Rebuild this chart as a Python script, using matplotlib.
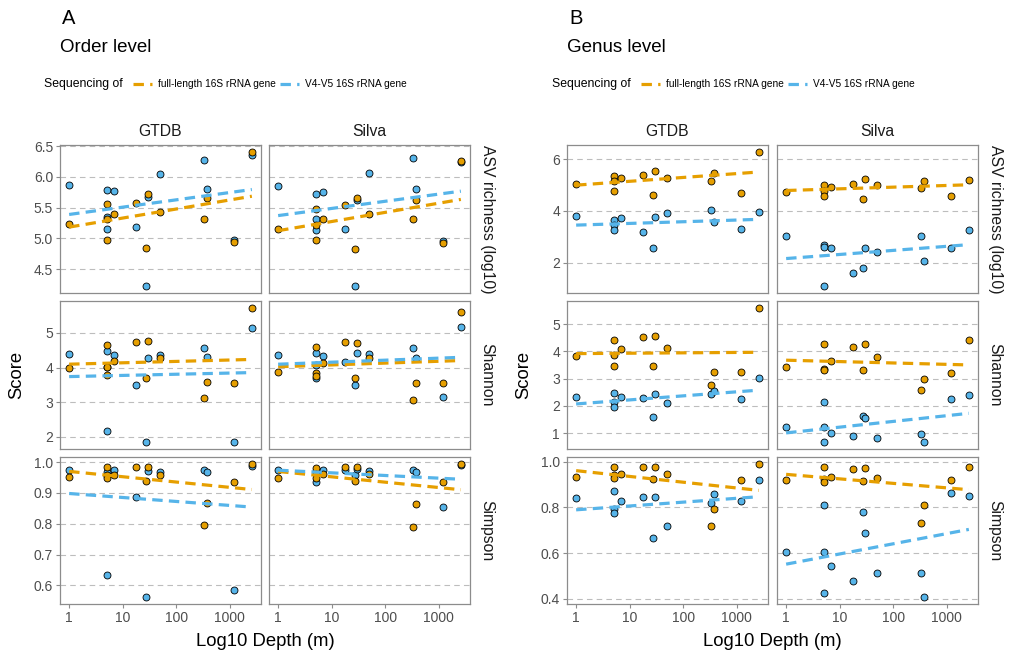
import numpy as np
import matplotlib
matplotlib.use("Agg")
import matplotlib.pyplot as plt
from matplotlib.lines import Line2D

plt.rcParams['font.family'] = ['Liberation Sans', 'DejaVu Sans']
plt.rcParams['lines.scale_dashes'] = False

# sample depths (m), same order in every array below
depth = [1, 5, 5, 5, 7, 18, 27, 30, 50, 330, 370, 1200, 2600]

# ---- A: order level ----
order_gtdb_asv_full = [5.23, 5.56, 5.32, 4.97, 5.40, 5.57, 4.85, 5.73, 5.43, 5.32, 5.65, 4.94, 6.41]
order_gtdb_asv_v4 = [5.87, 5.79, 5.35, 5.16, 5.77, 5.19, 4.22, 5.68, 6.05, 6.27, 5.80, 4.97, 6.36]
order_silva_asv_full = [5.15, 5.48, 5.21, 4.97, 5.32, 5.54, 4.83, 5.65, 5.39, 5.31, 5.63, 4.92, 6.26]
order_silva_asv_v4 = [5.86, 5.72, 5.32, 5.13, 5.76, 5.16, 4.22, 5.63, 6.07, 6.31, 5.81, 4.95, 6.25]
order_gtdb_shannon_full = [3.98, 4.66, 4.02, 3.79, 4.19, 4.74, 3.69, 4.76, 4.28, 3.12, 3.58, 3.55, 5.73]
order_gtdb_shannon_v4 = [4.38, 4.49, 4.03, 2.18, 4.37, 3.50, 1.84, 4.29, 4.36, 4.57, 4.30, 1.84, 5.15]
order_silva_shannon_full = [3.87, 4.60, 3.83, 3.75, 4.12, 4.74, 3.71, 4.71, 4.28, 3.07, 3.55, 3.54, 5.61]
order_silva_shannon_v4 = [4.35, 4.41, 4.06, 3.69, 4.33, 4.15, 3.51, 4.43, 4.38, 4.56, 4.28, 3.14, 5.16]
order_gtdb_simpson_full = [0.952, 0.984, 0.959, 0.947, 0.959, 0.984, 0.938, 0.984, 0.957, 0.796, 0.866, 0.936, 0.995]
order_gtdb_simpson_v4 = [0.976, 0.968, 0.955, 0.633, 0.976, 0.888, 0.561, 0.970, 0.968, 0.976, 0.968, 0.585, 0.989]
order_silva_simpson_full = [0.947, 0.982, 0.960, 0.949, 0.960, 0.984, 0.939, 0.984, 0.963, 0.790, 0.863, 0.936, 0.995]
order_silva_simpson_v4 = [0.976, 0.970, 0.963, 0.934, 0.975, 0.975, 0.957, 0.978, 0.970, 0.976, 0.968, 0.853, 0.990]

# ---- B: genus level ----
genus_gtdb_asv_full = [5.05, 5.36, 5.15, 4.77, 5.26, 5.38, 4.63, 5.54, 5.27, 5.15, 5.47, 4.69, 6.29]
genus_gtdb_asv_v4 = [3.82, 3.65, 3.46, 3.26, 3.74, 3.17, 2.56, 3.77, 3.91, 4.04, 3.59, 3.31, 3.95]
genus_silva_asv_full = [4.74, 5.00, 4.78, 4.58, 4.94, 5.05, 4.47, 5.22, 4.99, 4.90, 5.17, 4.56, 5.21]
genus_silva_asv_v4 = [3.05, 2.69, 2.60, 1.09, 2.56, 1.60, 1.79, 2.56, 2.41, 3.05, 2.08, 2.56, 3.27]
genus_gtdb_shannon_full = [3.82, 4.40, 3.88, 3.47, 4.10, 4.53, 3.46, 4.56, 4.12, 2.75, 3.25, 3.25, 5.60]
genus_gtdb_shannon_v4 = [2.31, 2.48, 2.14, 1.97, 2.34, 2.30, 1.57, 2.43, 2.09, 2.45, 2.56, 2.24, 3.02]
genus_silva_shannon_full = [3.42, 4.25, 3.35, 3.31, 3.65, 4.17, 3.30, 4.28, 3.78, 2.58, 2.99, 3.21, 4.43]
genus_silva_shannon_v4 = [1.21, 2.14, 1.21, 0.66, 0.99, 0.90, 1.63, 1.55, 0.81, 0.95, 0.67, 2.24, 2.39]
genus_gtdb_simpson_full = [0.933, 0.977, 0.941, 0.929, 0.948, 0.977, 0.925, 0.977, 0.945, 0.717, 0.792, 0.919, 0.991]
genus_gtdb_simpson_v4 = [0.841, 0.870, 0.792, 0.773, 0.827, 0.844, 0.665, 0.844, 0.717, 0.818, 0.860, 0.829, 0.920]
genus_silva_simpson_full = [0.918, 0.975, 0.922, 0.910, 0.931, 0.968, 0.915, 0.973, 0.929, 0.731, 0.809, 0.918, 0.975]
genus_silva_simpson_v4 = [0.604, 0.809, 0.604, 0.423, 0.543, 0.477, 0.780, 0.688, 0.514, 0.514, 0.406, 0.861, 0.850]

databases = ["GTDB", "Silva"]
metrics = ["asv", "shannon", "simpson"]
metric_labels = ["ASV richness (log10)", "Shannon", "Simpson"]
series_labels = ["full-length 16S rRNA gene", "V4-V5 16S rRNA gene"]
x_ticks = [1, 10, 100, 1000]

order_yticks = [[4.5, 5.0, 5.5, 6.0, 6.5], [2, 3, 4, 5], [0.6, 0.7, 0.8, 0.9, 1.0]]
genus_yticks = [[2, 4, 6], [1, 2, 3, 4, 5], [0.4, 0.6, 0.8, 1.0]]
order_yfmt = ["{:.1f}", "{:.0f}", "{:.1f}"]
genus_yfmt = ["{:.0f}", "{:.0f}", "{:.1f}"]

data = {
    ("order", "GTDB", "asv"): (order_gtdb_asv_full, order_gtdb_asv_v4),
    ("order", "Silva", "asv"): (order_silva_asv_full, order_silva_asv_v4),
    ("order", "GTDB", "shannon"): (order_gtdb_shannon_full, order_gtdb_shannon_v4),
    ("order", "Silva", "shannon"): (order_silva_shannon_full, order_silva_shannon_v4),
    ("order", "GTDB", "simpson"): (order_gtdb_simpson_full, order_gtdb_simpson_v4),
    ("order", "Silva", "simpson"): (order_silva_simpson_full, order_silva_simpson_v4),
    ("genus", "GTDB", "asv"): (genus_gtdb_asv_full, genus_gtdb_asv_v4),
    ("genus", "Silva", "asv"): (genus_silva_asv_full, genus_silva_asv_v4),
    ("genus", "GTDB", "shannon"): (genus_gtdb_shannon_full, genus_gtdb_shannon_v4),
    ("genus", "Silva", "shannon"): (genus_silva_shannon_full, genus_silva_shannon_v4),
    ("genus", "GTDB", "simpson"): (genus_gtdb_simpson_full, genus_gtdb_simpson_v4),
    ("genus", "Silva", "simpson"): (genus_silva_simpson_full, genus_silva_simpson_v4),
}

colors = ["#E69F00", "#56B4E9"]
border = "#8c8c8c"
W, H = 1014, 659

fig = plt.figure(figsize=(W / 100, H / 100), dpi=100)


def fx(x):
    return x / W


def fy(y):
    return 1 - y / H


def box(x0, y0, x1, y1):
    return [fx(x0), fy(y1), (x1 - x0) / W, (y1 - y0) / H]


rows_px = [(145, 293), (301, 449), (457, 604)]
panels = [
    dict(level="order", tag="A", title="Order level", cols=[(60, 261), (269, 470)],
         yticks=order_yticks, yfmt=order_yfmt, x0=44),
    dict(level="genus", tag="B", title="Genus level", cols=[(567, 768), (777, 978)],
         yticks=genus_yticks, yfmt=genus_yfmt, x0=552),
]

logd = np.log10(depth)
xpad = 0.05 * (logd.max() - logd.min())
xlim = (10 ** (logd.min() - xpad), 10 ** (logd.max() + xpad))

for p in panels:
    lvl = p["level"]
    for r, m in enumerate(metrics):
        allv = []
        for db in databases:
            for s in data[(lvl, db, m)]:
                allv += list(s)
        lo, hi = min(allv), max(allv)
        pad = 0.05 * (hi - lo)
        for c, db in enumerate(databases):
            (x0, x1), (y0, y1) = p["cols"][c], rows_px[r]
            ax = fig.add_axes(box(x0, y0, x1, y1))
            ax.set_xscale("log")
            ax.set_xlim(*xlim)
            ax.set_ylim(lo - pad, hi + pad)
            for i, s in enumerate(reversed(data[(lvl, db, m)])):
                col = colors[1 - i]
                ax.scatter(depth, s, s=25, color=col, edgecolors="black",
                           linewidths=0.6, zorder=3)
            for i, s in enumerate(data[(lvl, db, m)]):
                k, b = np.polyfit(logd, s, 1)
                xs = np.array([logd.min(), logd.max()])
                ax.plot(10 ** xs, k * xs + b, color=colors[i], lw=2.3,
                        dashes=(7.5, 4.5), zorder=4, dash_capstyle="butt")
            ax.set_yticks(p["yticks"][r])
            ax.set_yticklabels([p["yfmt"][r].format(t) for t in p["yticks"][r]])
            ax.set_xticks(x_ticks)
            ax.set_xticklabels([str(t) for t in x_ticks])
            ax.xaxis.set_minor_locator(plt.NullLocator())
            ax.yaxis.grid(True, color="#bdbdbd", lw=0.8, linestyle=(0, (4, 3)))
            ax.set_axisbelow(True)
            for sp in ax.spines.values():
                sp.set_color(border)
                sp.set_linewidth(0.9)
            ax.tick_params(axis="both", length=3, width=0.8, color=border,
                           labelsize=10, labelcolor="#4d4d4d", pad=2)
            if c != 0:
                ax.tick_params(axis="y", left=False, labelleft=False)
            if r != 2:
                ax.tick_params(axis="x", bottom=False, labelbottom=False)
            if r == 0:
                fig.text(fx((x0 + x1) / 2), fy(131), db, ha="center", va="center",
                         fontsize=11.3, color="#1a1a1a")
            if c == 1:
                fig.text(fx(x1 + 17), fy((y0 + y1) / 2), metric_labels[r], rotation=270,
                         ha="center", va="center", fontsize=11.3, color="#1a1a1a")

    left = p["cols"][0][0]
    right = p["cols"][1][1]
    fig.text(fx(left + 2), fy(18), p["tag"], ha="left", va="center", fontsize=14.5)
    fig.text(fx(left), fy(47), p["title"], ha="left", va="center", fontsize=13.5)
    fig.text(fx(left - 43), fy(375), "Score", rotation=90, ha="center", va="center",
             fontsize=13.3)
    fig.text(fx((left + right) / 2), fy(641), "Log10 Depth (m)", ha="center",
             va="center", fontsize=13.3)

    # legend row
    lx = p["x0"]
    fig.text(fx(lx), fy(84), "Sequencing of", ha="left", va="center", fontsize=8.8)
    key_x = [lx + 89, lx + 236]
    for i, lab in enumerate(series_labels):
        kx = key_x[i]
        fig.add_artist(Line2D([fx(kx), fx(kx + 19)], [fy(84), fy(84)],
                              transform=fig.transFigure, color=colors[i], lw=2.3,
                              dashes=(7.5, 4.5)))
        fig.text(fx(kx + 25), fy(84), lab, ha="left", va="center", fontsize=7.3)

fig.savefig("out.png", dpi=100, facecolor="white")
